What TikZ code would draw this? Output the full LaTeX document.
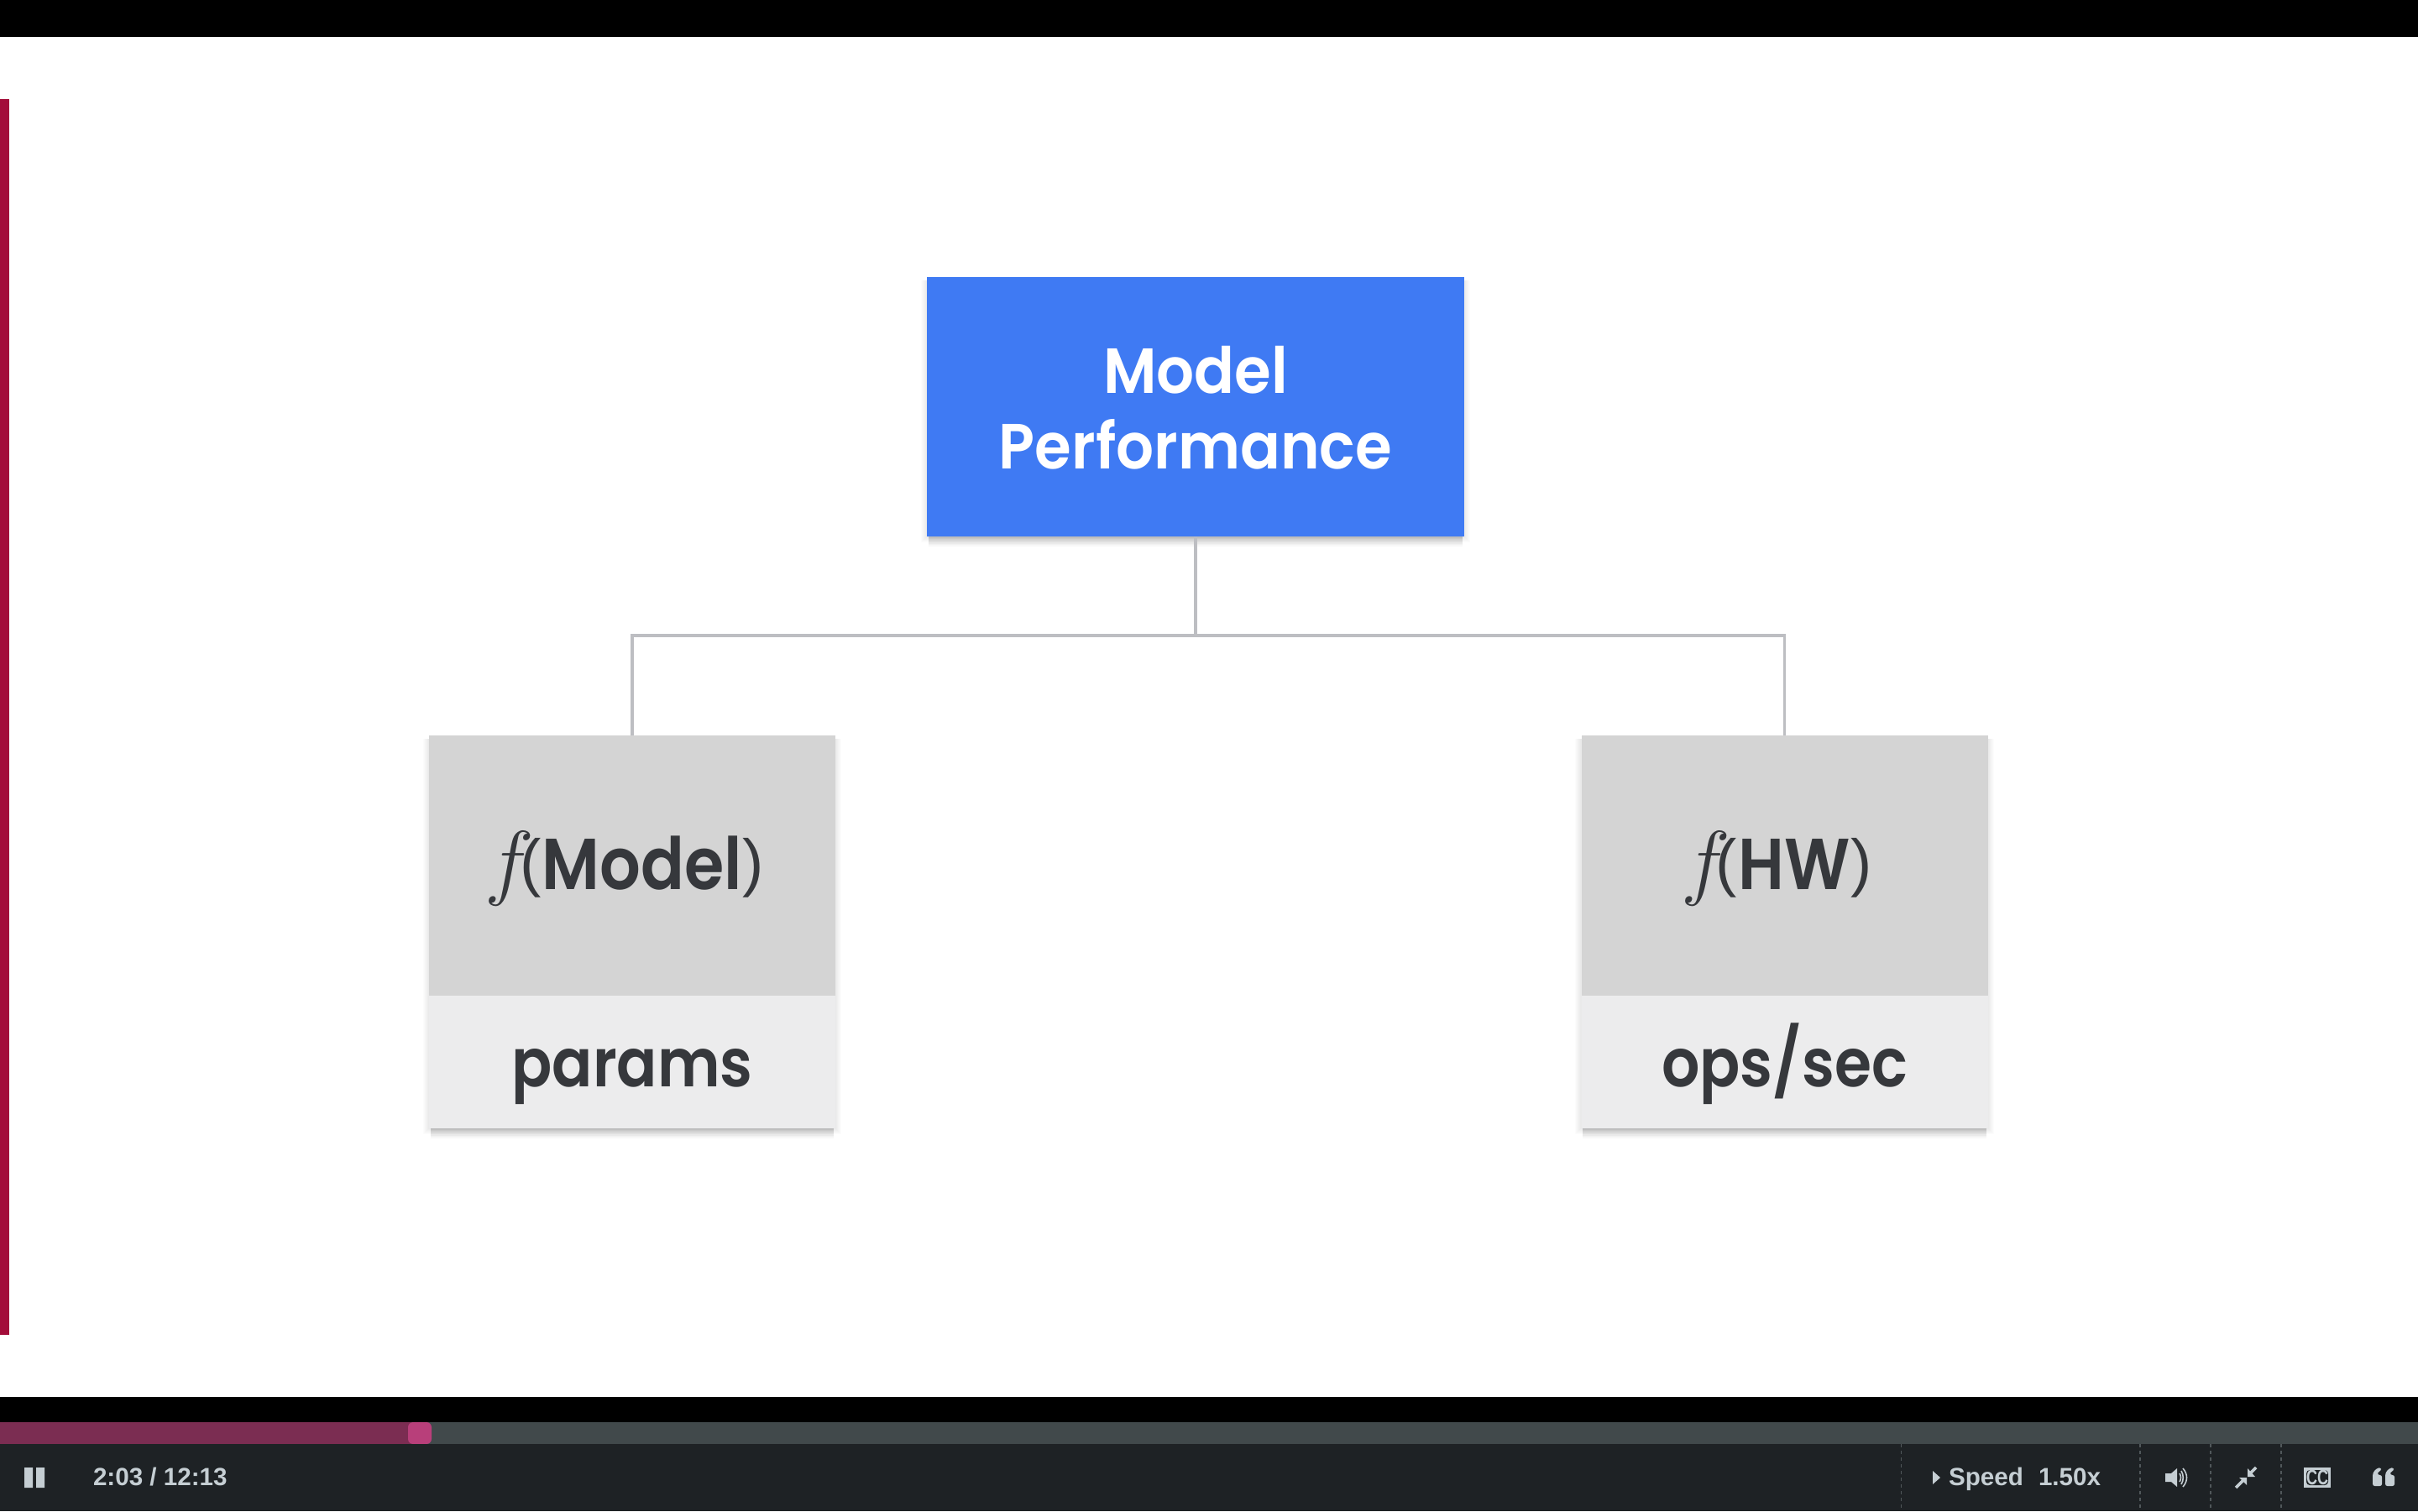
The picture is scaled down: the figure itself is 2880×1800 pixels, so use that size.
\documentclass[tikz,border=0pt]{standalone}
\usepackage{fontspec}
\setmainfont{Poppins}
\newfontfamily\bluef[FakeStretch=0.93]{Poppins SemiBold}
\newfontfamily\greyf[FakeStretch=0.89]{Poppins SemiBold}
\newfontfamily\uifont{Liberation Sans}
\definecolor{inkdark}{HTML}{36383C}
\definecolor{boxblue}{HTML}{3F7AF3}
\definecolor{boxgrey}{HTML}{D4D4D4}
\definecolor{boxpale}{HTML}{ECECED}
\definecolor{linegrey}{HTML}{BDBEC2}
\definecolor{barbg}{HTML}{1E2225}
\definecolor{trackgrey}{HTML}{41494B}
\definecolor{trackfill}{HTML}{7B2D52}
\definecolor{thumbpink}{HTML}{B83F7A}
\definecolor{sidered}{HTML}{A30D3A}
\definecolor{uitext}{HTML}{C5CED3}
\definecolor{divgrey}{HTML}{50575A}
\tikzset{
  x=0.25pt,y=-0.25pt,
  solidbox/.style={draw=none,inner sep=0pt,outer sep=0pt,align=center},
  bluebox/.style={solidbox,fill=boxblue,text=white,minimum width=160pt,minimum height=77.25pt,text height=41.8pt,text depth=5pt,font=\bluef\fontsize{19}{22.5}\selectfont},
  greybox/.style={solidbox,fill=boxgrey,text=inkdark,minimum width=121pt,minimum height=77.5pt,text height=19pt,text depth=5pt,font=\greyf\fontsize{21.5}{24}\selectfont},
  palebox/.style={solidbox,fill=boxpale,text=inkdark,minimum width=121pt,minimum height=39.5pt,text height=19.5pt,text depth=5pt,font=\greyf\fontsize{20}{24}\selectfont},
  wire/.style={draw=linegrey,line width=0.9pt},
  uilabel/.style={inner sep=0pt,outer sep=0pt,text=uitext,font=\uifont\fontsize{7.4}{9}\selectfont\bfseries},
  divider/.style={draw=divgrey,line width=0.4pt,dash pattern=on 1pt off 1pt},
}
\newcommand{\softshadow}[4]{%
  \foreach \g in {1,...,7}{%
    \fill[black,opacity=0.012] (#1-\g,#2+4) rectangle (#3+\g,#4+\g);
    \fill[black,opacity=0.028] (#1+2,#4) rectangle (#3-2,#4+\g*1.7);}%
}
\newcommand{\ffn}{{\fontsize{25}{25}\selectfont$f$}}
\newcommand{\lp}{\kern-4.4pt\raisebox{1.5pt}{\uifont\fontsize{19}{24}\selectfont(}\kern0.3pt}
\newcommand{\rp}{\kern0.3pt\raisebox{1.5pt}{\uifont\fontsize{19}{24}\selectfont)}}
\begin{document}
\begin{tikzpicture}
\useasboundingbox (0,0) rectangle (2880,1800);
\fill[white] (0,0) rectangle (2880,1800);
\fill[black] (0,0) rectangle (2880,44);
\fill[sidered] (0,118) rectangle (11,1590);
% shadows
\softshadow{1104}{330}{1744}{639}
\softshadow{511}{876}{995}{1344}
\softshadow{1883}{876}{2368}{1344}
% boxes
\node[bluebox] (perf) at (1424,484.5) {Model\\Performance};
\node[greybox] (fmodel) at (753,1031) {\ffn\lp Model\rp\kern4.5pt};
\node[palebox] (params) at (753,1265) {params};
\node[greybox] (fhw) at (2125.5,1031) {\ffn\lp HW\rp\kern4.5pt};
\node[palebox] (ops) at (2125.5,1265) {ops/sec};
% connectors
\coordinate (bus) at (1424,757);
\draw[wire] (perf.south) -- (bus);
\draw[wire] (fmodel.north) |- (bus) -| (fhw.north);
% player
\fill[black] (0,1664) rectangle (2880,1694);
\fill[trackgrey] (0,1694) rectangle (2880,1720);
\fill[trackfill] (0,1694) rectangle (490,1720);
\fill[thumbpink,rounded corners=1.5pt] (486,1694) rectangle (514,1720);
\fill[barbg] (0,1720) rectangle (2880,1800);
\fill[uitext] (29,1748) rectangle (39,1772) (43,1748) rectangle (53,1772);
\node[uilabel,anchor=base west] (clock) at (111,1769) {2:03 / 12:13};
\foreach \dx in {2264.5,2549,2633,2717}{\draw[divider] (\dx,1720) -- (\dx,1800);}
\fill[uitext] (2302,1752) -- (2311,1760) -- (2302,1768) -- cycle;
\node[uilabel,anchor=base west] (speedlbl) at (2321,1769) {Speed};
\node[uilabel,anchor=base west] (speedval) at (2428,1769) {1.50x};
% speaker
\fill[uitext] (2579,1755) -- (2586,1755) -- (2593,1749) -- (2593,1771) -- (2586,1765) -- (2579,1765) -- cycle;
\draw[uitext,line width=0.4pt] (2596,1755) .. controls (2598,1758) and (2598,1762) .. (2596,1765);
\draw[uitext,line width=0.4pt] (2598,1752) .. controls (2601,1757) and (2601,1763) .. (2598,1768);
\draw[uitext,line width=0.4pt] (2600,1749) .. controls (2606,1756) and (2606,1764) .. (2600,1771);
% exit full screen
\draw[uitext,line width=0.9pt] (2663,1772) -- (2672,1763);
\fill[uitext] (2667,1760) -- (2676,1760) -- (2676,1769) -- cycle;
\draw[uitext,line width=0.9pt] (2687,1748) -- (2680,1755);
\fill[uitext] (2677,1749) -- (2677,1759) -- (2686,1759) -- cycle;
% captions
\fill[uitext] (2744,1748) rectangle (2776,1772);
\fill[barbg,rounded corners=1pt] (2747,1751) rectangle (2773,1769);
\node[uilabel,font=\uifont\fontsize{5}{6}\selectfont\bfseries] (cclbl) at (2760,1760) {\scalebox{0.9}[1.25]{CC}};
% quote
\fill[uitext,rounded corners=0.6pt] (2826,1770) -- (2826,1760) .. controls (2826,1753) and (2830,1749) .. (2836,1748) -- (2836,1752) .. controls (2833,1753) and (2832,1755) .. (2832,1757) -- (2837,1757) -- (2837,1770) -- cycle;
\fill[uitext,rounded corners=0.6pt] (2841,1770) -- (2841,1760) .. controls (2841,1753) and (2845,1749) .. (2851,1748) -- (2851,1752) .. controls (2848,1753) and (2847,1755) .. (2847,1757) -- (2852,1757) -- (2852,1770) -- cycle;
\end{tikzpicture}
\end{document}
